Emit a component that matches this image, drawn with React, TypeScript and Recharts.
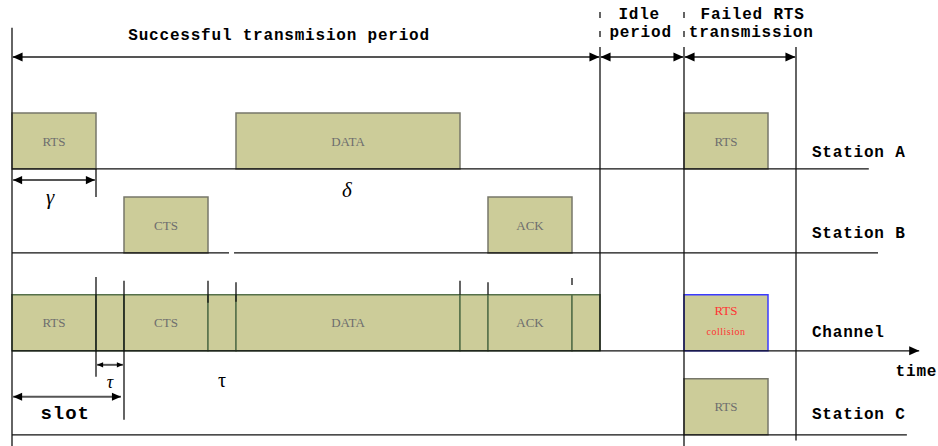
import React from 'react';
import { ComposedChart, XAxis, YAxis, Scatter, ReferenceArea, ReferenceLine, ReferenceDot } from 'recharts';

// time axis in units of tau (propagation delay); RTS/CTS/ACK = 3, DATA = 8
const stationA = [
  { label: 'RTS', start: 0, end: 3 },
  { label: 'DATA', start: 8, end: 16 },
  { label: 'RTS', start: 24, end: 27 },
];
const stationB = [
  { label: 'CTS', start: 4, end: 7 },
  { label: 'ACK', start: 17, end: 20 },
];
const channel = [
  { label: 'RTS', start: 0, end: 3 },
  { label: '', start: 3, end: 4 },
  { label: 'CTS', start: 4, end: 7 },
  { label: '', start: 7, end: 8 },
  { label: 'DATA', start: 8, end: 16 },
  { label: '', start: 16, end: 17 },
  { label: 'ACK', start: 17, end: 20 },
  { label: '', start: 20, end: 21 },
];
const collision = { start: 24, end: 27 };
const stationC = [{ label: 'RTS', start: 24, end: 27 }];

// lanes: baseline level and how far the baseline runs
const lanes = [
  { name: 'Station A', base: 6, frames: stationA, lineEnd: 30.6, labelY: 5.43 },
  { name: 'Station B', base: 9, frames: stationB, lineEnd: 30.93, labelY: 8.32 },
  { name: 'Channel', base: 12.5, frames: channel, lineEnd: 32.4, labelY: 11.86 },
  { name: 'Station C', base: 15.5, frames: stationC, lineEnd: 31.96, labelY: 14.8 },
];
const FRAME_H = 2;

const periods = [
  { start: 0, end: 21 },
  { start: 21, end: 24 },
  { start: 24, end: 28 },
];
const boundaries = [
  { x: 0, y1: 0.96, y2: 15.9 },
  { x: 21, y1: 1.64, y2: 12.5 },
  { x: 24, y1: 1.64, y2: 15.9 },
  { x: 28, y1: 1.64, y2: 15.7 },
];
const channelTicks = [
  { x: 3, y1: 9.86, y2: 13.43 },
  { x: 4, y1: 10.0, y2: 14.96 },
  { x: 7, y1: 10.0, y2: 10.78 },
  { x: 8, y1: 10.05, y2: 10.75 },
  { x: 16, y1: 10.0, y2: 10.5 },
  { x: 17, y1: 10.05, y2: 10.5 },
  { x: 20, y1: 9.9, y2: 10.15 },
];

const headFont = { fontFamily: '"Liberation Mono", monospace', fontWeight: 700, fontSize: 16, letterSpacing: 0.8 };
const greek = { fontFamily: '"Liberation Serif", serif', fontStyle: 'italic' };

const annotations = [
  { text: 'Successful transmision period', x: 9.54, y: 1.25, style: headFont, anchor: 'middle' },
  { text: 'Idle', x: 22.4, y: 0.5, style: headFont, anchor: 'middle' },
  { text: 'period', x: 22.45, y: 1.14, style: headFont, anchor: 'middle' },
  { text: 'Failed RTS', x: 26.45, y: 0.5, style: headFont, anchor: 'middle' },
  { text: 'transmission', x: 26.4, y: 1.14, style: headFont, anchor: 'middle' },
  { text: 'time', x: 32.3, y: 13.25, style: headFont, anchor: 'middle' },
  { text: 'slot', x: 1.9, y: 14.75, style: { ...headFont, fontSize: 19, letterSpacing: 1 }, anchor: 'middle' },
  { text: 'γ', x: 1.36, y: 7.0, style: { ...greek, fontSize: 21 }, anchor: 'middle' },
  { text: 'δ', x: 11.96, y: 6.75, style: { ...greek, fontSize: 21 }, anchor: 'middle' },
  { text: 'τ', x: 3.5, y: 13.6, style: { ...greek, fontSize: 18 }, anchor: 'middle' },
  { text: 'τ', x: 7.5, y: 13.55, style: { fontFamily: '"Liberation Serif", serif', fontSize: 20 }, anchor: 'middle' },
  { text: 'RTS', x: 25.5, y: 11.07, style: { fontFamily: '"Liberation Serif", serif', fontSize: 13, fill: '#ff3333' }, anchor: 'middle' },
  { text: 'collision', x: 25.5, y: 11.82, style: { fontFamily: '"Liberation Serif", serif', fontSize: 10, fill: '#ff3333', letterSpacing: 0.5 }, anchor: 'middle' },
];

const dims = [
  { start: 0, end: 3, y: 6.4, size: 9 },
  { start: 3, end: 4, y: 13.0, size: 6 },
  { start: 0, end: 3.93, y: 14.14, size: 9 },
];

// anchor points so the chart has data for its axes
const anchorPoints = lanes.map((l) => ({ t: 0, y: l.base }));

const arrowShape = (both: boolean, size: number, color: string, width: number) => (p: any) => {
  const { x1, y1, x2, y2 } = p;
  const a = Math.atan2(y2 - y1, x2 - x1);
  const h = size * 0.45;
  const head = (x: number, y: number, ang: number) => {
    const bx = x - Math.cos(ang) * size;
    const by = y - Math.sin(ang) * size;
    const nx = -Math.sin(ang) * h;
    const ny = Math.cos(ang) * h;
    return <polygon points={`${x},${y} ${bx + nx},${by + ny} ${bx - nx},${by - ny}`} fill="#000" />;
  };
  return (
    <g>
      <line x1={x1} y1={y1} x2={x2} y2={y2} stroke={color} strokeWidth={width} />
      {head(x2, y2, a)}
      {both && head(x1, y1, a + Math.PI)}
    </g>
  );
};

const textShape = (a: any) => (p: any) => (
  <text x={p.cx} y={p.cy} textAnchor={a.anchor} dominantBaseline="central" fill="#000" {...a.style}>
    {a.text}
  </text>
);

const frameLabel = (text: string) =>
  text
    ? { value: text, position: 'center' as const, fill: '#6e6e6e', fontSize: 13, fontFamily: '"Liberation Serif", serif' }
    : undefined;

const areas: any[] = [];
lanes.forEach((lane) =>
  lane.frames.forEach((f, i) =>
    areas.push({
      key: `${lane.name}-${i}`,
      x1: f.start,
      x2: f.end,
      y1: lane.base - FRAME_H,
      y2: lane.base,
      stroke: lane.name === 'Channel' ? '#55704a' : '#77776a',
      label: f.label,
    })
  )
);

export default function App() {
  return (
    <div style={{ position: 'absolute', left: 0, top: 0, background: '#fff' }}>
      <ComposedChart width={938} height={446} data={anchorPoints} margin={{ top: 1, right: 2, bottom: 0, left: 12 }}>
        <XAxis type="number" dataKey="t" domain={[0, 33]} hide />
        <YAxis type="number" dataKey="y" domain={[0, 15.9]} reversed hide />
        <Scatter dataKey="y" fill="none" isAnimationActive={false} />

        {areas.map((a) => (
          <ReferenceArea
            key={a.key}
            x1={a.x1}
            x2={a.x2}
            y1={a.y1}
            y2={a.y2}
            fill="#cccc99"
            fillOpacity={1}
            stroke={a.stroke}
            strokeWidth={1.5}
            label={frameLabel(a.label)}
          />
        ))}
        <ReferenceArea
          x1={collision.start}
          x2={collision.end}
          y1={12.5 - FRAME_H}
          y2={12.5}
          fill="#cccc99"
          fillOpacity={1}
          stroke="#3b3bff"
          strokeWidth={1.5}
        />

        <ReferenceLine segment={[{ x: 0, y: 6 }, { x: 30.6, y: 6 }]} stroke="#111" strokeWidth={1.3} />
        <ReferenceLine segment={[{ x: 0, y: 9 }, { x: 7.75, y: 9 }]} stroke="#111" strokeWidth={1.3} />
        <ReferenceLine segment={[{ x: 7.93, y: 9 }, { x: 30.93, y: 9 }]} stroke="#111" strokeWidth={1.3} />
        <ReferenceLine segment={[{ x: 0, y: 12.5 }, { x: 32.4, y: 12.5 }]} shape={arrowShape(false, 10, '#111', 1.3)} />
        <ReferenceLine segment={[{ x: 0, y: 15.5 }, { x: 31.96, y: 15.5 }]} stroke="#111" strokeWidth={1.3} />

        {boundaries.map((b, i) => (
          <ReferenceLine key={`b${i}`} segment={[{ x: b.x, y: b.y1 }, { x: b.x, y: b.y2 }]} stroke="#111" strokeWidth={1.3} />
        ))}
        {[21, 24].map((x) => (
          <ReferenceLine
            key={`d${x}`}
            segment={[{ x, y: 0.39 }, { x, y: 1.3 }]}
            stroke="#111"
            strokeWidth={1.3}
            strokeDasharray="6 13"
          />
        ))}
        {channelTicks.map((t, i) => (
          <ReferenceLine key={`t${i}`} segment={[{ x: t.x, y: t.y1 }, { x: t.x, y: t.y2 }]} stroke="#111" strokeWidth={1.3} />
        ))}
        <ReferenceLine segment={[{ x: 3, y: 6 }, { x: 3, y: 7 }]} stroke="#111" strokeWidth={1.3} />

        {periods.map((p, i) => (
          <ReferenceLine
            key={`p${i}`}
            segment={[{ x: p.start + 0.02, y: 2 }, { x: p.end - 0.02, y: 2 }]}
            shape={arrowShape(true, 10, '#555', 2)}
          />
        ))}
        {dims.map((d, i) => (
          <ReferenceLine
            key={`m${i}`}
            segment={[{ x: d.start + 0.04, y: d.y }, { x: d.end - 0.04, y: d.y }]}
            shape={arrowShape(true, d.size, '#555', 2)}
          />
        ))}

        {lanes.map((lane) => (
          <ReferenceDot
            key={`l-${lane.name}`}
            x={28.57}
            y={lane.labelY}
            shape={textShape({ text: lane.name, anchor: 'start', style: headFont })}
          />
        ))}
        {annotations.map((a, i) => (
          <ReferenceDot key={`a${i}`} x={a.x} y={a.y} shape={textShape(a)} />
        ))}
      </ComposedChart>
    </div>
  );
}
